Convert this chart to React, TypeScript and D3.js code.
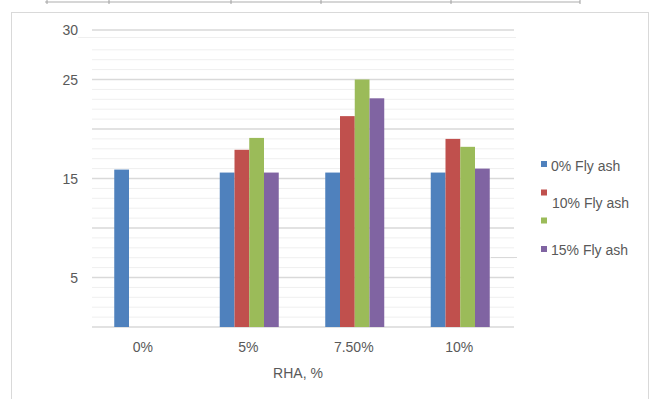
import React from "react";
import * as d3 from "d3";

const categories = ["0%", "5%", "7.50%", "10%"];
const seriesNames = ["0% Fly ash", "10% Fly ash", "15% Fly ash (green)", "15% Fly ash"];
const flyAsh0 = [15.9, 15.6, 15.6, 15.6];
const flyAsh10 = [null, 17.9, 21.3, 19.0];
const flyAshGreen = [null, 19.1, 25.0, 18.2];
const flyAsh15 = [null, 15.6, 23.1, 16.0];
const colors = ["#4F81BD", "#C0504D", "#9BBB59", "#8064A2"];
const yTickLabels = [30, 25, 15, 5];
const xTitle = "RHA, %";

const W = 654;
const H = 399;

export default function App() {
  const series = [flyAsh0, flyAsh10, flyAshGreen, flyAsh15];
  const y = d3.scaleLinear().domain([0, 30]).range([327, 30]);
  const x = d3.scaleBand<string>().domain(categories).range([91, 513]).padding(0);
  const groupW = 59;
  const inner = d3
    .scaleBand<number>()
    .domain(d3.range(series.length))
    .range([0, groupW])
    .padding(0);
  const gridX0 = 92;
  const gridX1 = 514;
  const minor = d3.range(1, 30).filter((v) => v % 5 !== 0 && v !== 29);
  const major = d3.range(0, 31, 5);
  const font = "'Liberation Sans', Arial, sans-serif";
  const txt = "#595959";

  const legendRows = [
    { sq: 161, text: "0% Fly ash", tx: 551, ty: 171 },
    { sq: 189.5, text: "10% Fly ash", tx: 552, ty: 208 },
    { sq: 217.5, text: "", tx: 552, ty: 0 },
    { sq: 246, text: "15% Fly ash", tx: 551, ty: 255 },
  ];

  return (
    <svg
      width={W}
      height={H}
      style={{ position: "absolute", left: 0, top: 0, background: "#fff" }}
    >
      {/* artifact from chart above */}
      <line x1={45} x2={580} y1={2} y2={2} stroke="#c8c8c8" strokeWidth={1.5} />
      {[47, 109, 231, 321, 451, 580].map((tx) => (
        <line key={tx} x1={tx} x2={tx} y1={0} y2={4} stroke="#a0a0a0" />
      ))}
      {/* frame */}
      <rect x={11.5} y={12.5} width={637} height={400} fill="#fff" stroke="#d9d9d9" />

      {/* minor gridlines */}
      {minor.map((v) => (
        <line key={"m" + v} x1={gridX0} x2={gridX1} y1={y(v)} y2={y(v)} stroke="#efefef" strokeWidth={1} />
      ))}
      <line x1={78} x2={516} y1={37.5} y2={37.5} stroke="#efefef" strokeWidth={1} />
      <line x1={491} x2={517} y1={257.5} y2={257.5} stroke="#d9d9d9" strokeWidth={1} />
      {/* major gridlines */}
      {major.map((v) => (
        <line key={"M" + v} x1={gridX0} x2={gridX1} y1={y(v)} y2={y(v)} stroke="#d9d9d9" strokeWidth={1.3} />
      ))}

      {/* bars */}
      {categories.map((c, ci) => {
        const gx = (x(c) as number) + (x.bandwidth() - groupW) / 2;
        return series.map((s, si) => {
          const v = s[ci];
          if (v == null) return null;
          return (
            <rect
              key={c + si}
              x={gx + (inner(si) as number)}
              y={y(v)}
              width={inner.bandwidth()}
              height={y(0) - y(v)}
              fill={colors[si]}
            />
          );
        });
      })}

      {/* y labels */}
      {yTickLabels.map((v) => (
        <text
          key={"yl" + v}
          x={78}
          y={y(v) + 5}
          textAnchor="end"
          fontFamily={font}
          fontSize={14}
          fill={txt}
        >
          {v}
        </text>
      ))}

      {/* x labels */}
      {categories.map((c) => (
        <text
          key={"xl" + c}
          x={(x(c) as number) + x.bandwidth() / 2 - 1}
          y={352}
          textAnchor="middle"
          fontFamily={font}
          fontSize={14}
          fill={txt}
        >
          {c}
        </text>
      ))}
      <text x={298} y={378} textAnchor="middle" fontFamily={font} fontSize={14} fill={txt}>
        {xTitle}
      </text>

      {/* legend */}
      {legendRows.map((r, i) => (
        <g key={"lg" + i}>
          <rect x={541} y={r.sq} width={6} height={6} fill={colors[i]} />
          {r.text && (
            <text x={r.tx} y={r.ty} fontFamily={font} fontSize={14} fill={txt}>
              {r.text}
            </text>
          )}
        </g>
      ))}
    </svg>
  );
}
